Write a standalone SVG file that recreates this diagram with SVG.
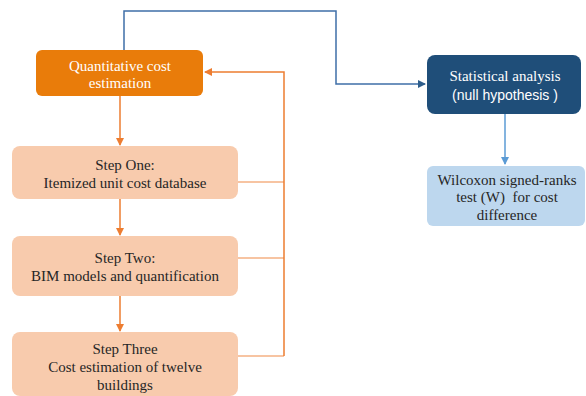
<svg xmlns="http://www.w3.org/2000/svg" width="586" height="396" viewBox="0 0 586 396">
<style>
.t{font-family:"Liberation Serif","Times New Roman",serif;font-size:15px;text-anchor:middle}
.ts{font-family:"Liberation Sans",Arial,sans-serif;font-size:14px}
.dark{fill:#262626}
.white{fill:#FFFFFF}
.step{fill:#F8CBAD}
.c{fill:none;stroke-width:1.5}
.or{stroke:#ED7D31}
.orl{stroke:#F4B183}
.bl{stroke:#3F6FA8}
.bl2{stroke:#5B9BD5}
</style>
<defs>
<marker id="ao" markerWidth="8" markerHeight="8" refX="7" refY="4" orient="auto" markerUnits="userSpaceOnUse"><path d="M0,0 L8,4 L0,8 Z" fill="#ED7D31"/></marker>
<marker id="ab" markerWidth="8" markerHeight="8" refX="7" refY="4" orient="auto" markerUnits="userSpaceOnUse"><path d="M0,0 L8,4 L0,8 Z" fill="#2E5E8C"/></marker>
<marker id="ab2" markerWidth="8" markerHeight="8" refX="7" refY="4" orient="auto" markerUnits="userSpaceOnUse"><path d="M0,0 L8,4 L0,8 Z" fill="#5B9BD5"/></marker>
</defs>
<rect width="586" height="396" fill="#FFFFFF"/>
<g id="connectors">
<path class="c bl" d="M124,50 V11 H336 V84 H425" marker-end="url(#ab)"/>
<path class="c bl2" d="M505,114 V164" marker-end="url(#ab2)"/>
<path class="c or" d="M120,96 V145" marker-end="url(#ao)"/>
<path class="c or" d="M120,199 V235" marker-end="url(#ao)"/>
<path class="c or" d="M120,296 V331" marker-end="url(#ao)"/>
<path class="c orl" d="M238,182 H284"/>
<path class="c orl" d="M238,258 H284"/>
<path class="c orl" d="M238,356 H284"/>
<path class="c or" d="M284,356 V72 H205" marker-end="url(#ao)"/>
</g>
<g id="quantitative">
<rect x="36" y="50" width="167" height="46" rx="6" fill="#E97C0A"/>
<text class="t white" x="120" y="71">Quantitative cost</text>
<text class="t white" x="120" y="88">estimation</text>
</g>
<g id="step-one">
<rect class="step" x="12" y="146" width="226" height="53" rx="8"/>
<text class="t dark" x="125" y="170">Step One:</text>
<text class="t dark" x="125" y="188">Itemized unit cost database</text>
</g>
<g id="step-two">
<rect class="step" x="12" y="236" width="226" height="60" rx="8"/>
<text class="t dark" x="125" y="263">Step Two:</text>
<text class="t dark" x="125" y="281">BIM models and quantification</text>
</g>
<g id="step-three">
<rect class="step" x="12" y="332" width="226" height="64" rx="8"/>
<text class="t dark" x="125" y="354">Step Three</text>
<text class="t dark" x="125" y="372">Cost estimation of twelve</text>
<text class="t dark" x="125" y="390">buildings</text>
</g>
<g id="statistical">
<rect x="427" y="55" width="154" height="59" rx="8" fill="#1F4E79"/>
<text class="t white" x="505" y="81">Statistical analysis</text>
<text class="t ts white" x="505" y="100">(null hypothesis )</text>
</g>
<g id="wilcoxon">
<rect x="427" y="166" width="158" height="60" rx="6" fill="#BDD7EE"/>
<text class="t dark" x="507" y="185">Wilcoxon signed-ranks</text>
<text class="t dark" x="507" y="202" xml:space="preserve">test (W)  for cost</text>
<text class="t dark" x="507" y="220">difference</text>
</g>
</svg>
